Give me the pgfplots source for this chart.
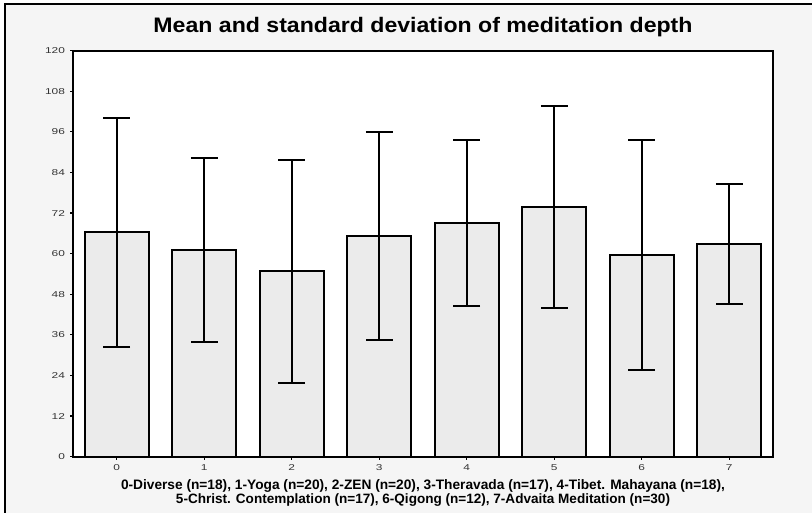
\documentclass[border=0pt]{standalone}
\usepackage{graphicx}
\usepackage{pgfplots}
\pgfplotsset{compat=1.18}
\usepackage{fontspec}
\setmainfont{Liberation Sans}
\definecolor{outerbg}{RGB}{245,245,245}
\definecolor{barfill}{RGB}{235,235,235}
\newcommand{\xlfont}{\fontsize{13.7}{15.7}\selectfont\bfseries}
\begin{document}
\begin{tikzpicture}[x=1pt,y=1pt]
\useasboundingbox (0,0) rectangle (812,513);
\fill[outerbg] (5,0) rectangle (812,509);
\draw[line width=1.6pt] (5,0) -- (5,509) -- (812,509);
\begin{axis}[
  at={(73pt,56.3pt)}, anchor=south west,
  scale only axis, width=700pt, height=406pt,
  xmin=-0.5, xmax=7.5, ymin=0, ymax=120,
  axis background/.style={fill=white},
  axis line style={line width=2pt},
  xtick={0,...,7}, ytick={0,12,...,120},
  xtick pos=left, ytick pos=left,
  tick align=outside, major tick length=3pt,
  tick style={line width=1.2pt,black},
  /pgf/number format/assume math mode=true,
  ticklabel style={font=\fontsize{8.5}{10}\selectfont, text=black!80},
  xticklabel={\scalebox{1.4}[1]{\pgfmathprintnumber{\tick}}},
  yticklabel={\scalebox{1.4}[1]{\pgfmathprintnumber{\tick}}},
  yticklabel style={xshift=-1.5pt},
  xticklabel style={yshift=-1pt},
  title={\scalebox{1.1}[1]{Mean and standard deviation of meditation depth}},
  title style={font=\bfseries\fontsize{21}{24}\selectfont, anchor=base, at={(0.5,1)}, yshift=12.4pt},
  xlabel={\resizebox{604pt}{!}{\xlfont 0-Diverse (n=18), 1-Yoga (n=20), 2-ZEN (n=20), 3-Theravada (n=17), 4-Tibet. Mahayana (n=18),}\\[-1pt]\resizebox{494pt}{!}{\xlfont 5-Christ. Contemplation (n=17), 6-Qigong (n=12), 7-Advaita Meditation (n=30)}},
  xlabel style={font=\xlfont, align=center, at={(0.5,0)}, anchor=north, yshift=-19pt},
  ybar, bar width=64pt,
]
\addplot[fill=barfill, draw=black, line width=2pt,
  error bars/.cd, y dir=both, y explicit,
  error bar style={line width=2pt, black},
  error mark options={line width=2pt, black, mark size=13.3pt, rotate=90}]
  table[x=x, y=m, y error=sd] {
x m sd
0 66.3 33.8
1 61.0 27.2
2 54.8 32.9
3 65.2 30.7
4 69.0 24.5
5 73.8 29.8
6 59.5 34.0
7 62.8 17.8
};
\end{axis}
\end{tikzpicture}
\end{document}
